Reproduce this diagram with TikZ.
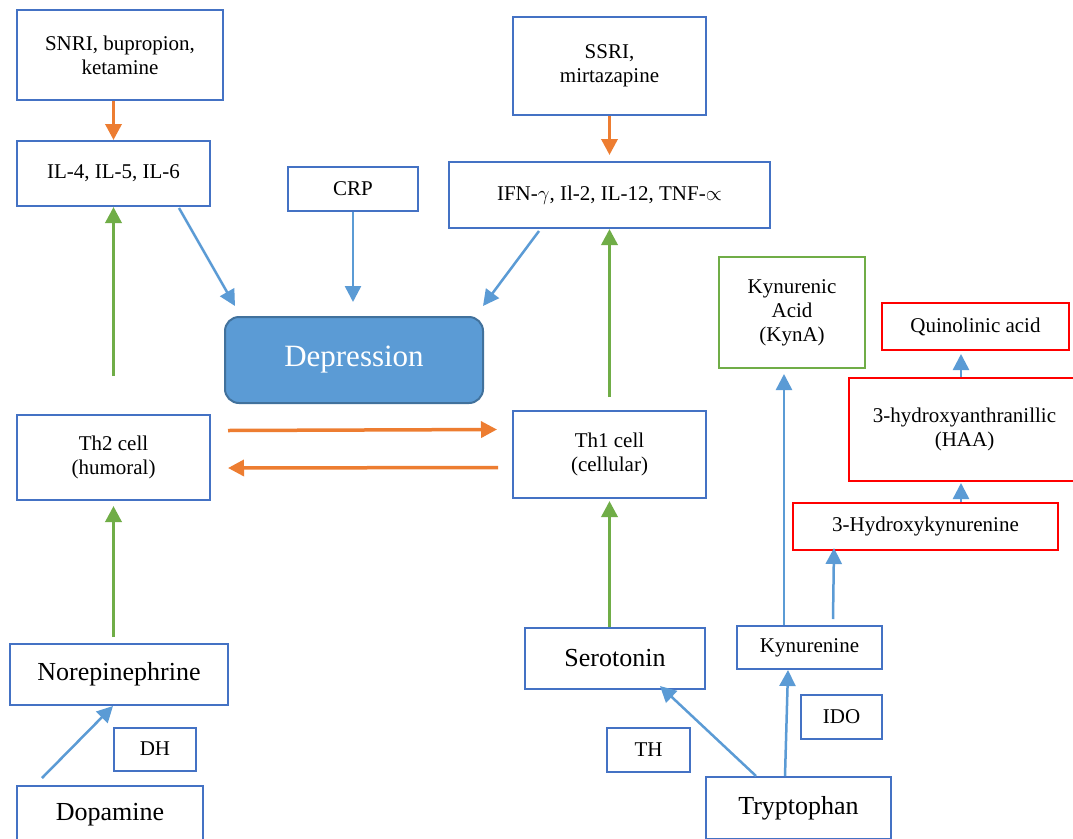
\documentclass[tikz,border=0pt]{standalone}
\usepackage{fontspec}
\setmainfont{Liberation Serif}
\usetikzlibrary{arrows.meta,calc}
\definecolor{boxblue}{HTML}{4472C4}
\definecolor{arrblue}{HTML}{5B9BD5}
\definecolor{aorange}{HTML}{ED7D31}
\definecolor{agreen}{HTML}{70AD47}
\definecolor{depborder}{HTML}{41719C}
\definecolor{ared}{HTML}{FF0000}
\begin{document}
\begin{tikzpicture}[x=1pt,y=-1pt,
  bx/.style={draw=boxblue, line width=2pt, fill=white, inner sep=0pt, align=center, font=\fontsize{21}{24}\selectfont},
  rbx/.style={bx, draw=ared},
  gbx/.style={bx, draw=agreen},
  bigtxt/.style={font=\fontsize{26}{30}\selectfont},
  depbox/.style={draw=depborder, fill=arrblue, line width=2pt, rounded corners=14pt, text=white, inner sep=0pt, font=\fontsize{31}{36}\selectfont},
  barr/.style={draw=arrblue, line width=2.5pt, -{Triangle[length=16pt,width=16pt]}},
  oarr/.style={draw=aorange, line width=3.5pt, -{Triangle[length=16pt,width=16pt]}},
  garr/.style={draw=agreen, line width=3.5pt, -{Triangle[length=16pt,width=16pt]}},
]
\useasboundingbox[fill=white] (0,0) rectangle (1073,838);

% nodes
\node[bx, minimum width=206pt, minimum height=90pt] (snri) at (120,55) {SNRI, bupropion,\\ketamine};
\node[bx, minimum width=193pt, minimum height=65pt] (il) at (113.5,173.5) {IL-4, IL-5, IL-6};
\node[bx, minimum width=130pt, minimum height=44pt] (crp) at (353,189) {CRP};
\node[bx, minimum width=193pt, minimum height=98pt] (ssri) at (609.5,66) {SSRI,\\mirtazapine};
\node[bx, minimum width=321pt, minimum height=66pt] (ifn) at (609.5,195) {IFN-$\gamma$, Il-2, IL-12, TNF-$\propto$};
\node[depbox, minimum width=258pt, minimum height=86pt] (dep) at (354,360) {Depression};
\node[bx, minimum width=193pt, minimum height=85pt] (th2) at (113.5,457.5) {Th2 cell\\(humoral)};
\node[bx, minimum width=193pt, minimum height=87pt] (th1) at (609.5,454.5) {Th1 cell\\(cellular)};
\node[bx, bigtxt, minimum width=218pt, minimum height=61pt] (norepi) at (119,674.5) {Norepinephrine};
\node[bx, minimum width=82pt, minimum height=43pt] (dh) at (155,749) {DH};
\node[bx, bigtxt, minimum width=186pt, minimum height=58pt] (dopa) at (110,815) {Dopamine};
\node[bx, bigtxt, minimum width=180pt, minimum height=61pt] (sero) at (615,658.5) {Serotonin};
\node[bx, minimum width=83pt, minimum height=44pt] (th) at (648.5,750) {TH};
\node[bx, minimum width=81pt, minimum height=44pt] (ido) at (841.5,717) {IDO};
\node[bx, minimum width=145pt, minimum height=43pt] (kyn) at (809.5,647.5) {Kynurenine};
\node[bx, bigtxt, minimum width=185pt, minimum height=62pt] (tryp) at (798.5,808) {Tryptophan};
\node[gbx, minimum width=146pt, minimum height=111pt] (kyna) at (792,312.5) {Kynurenic\\Acid\\(KynA)};
\node[rbx, minimum width=187pt, minimum height=47pt] (quin) at (975.5,326.5) {Quinolinic acid};
\node[rbx, minimum width=231pt, minimum height=103pt] (haa) at (964.5,429.5) {3-hydroxyanthranillic\\(HAA)};
\node[rbx, minimum width=265pt, minimum height=47pt] (hk) at (925.5,526.5) {3-Hydroxykynurenine};

\coordinate (g1) at (113.5,376);
\coordinate (g2) at (609.5,397);

% connectors
\draw[oarr] (il |- snri.south) -- (il.north);
\draw[oarr] (ssri.south) -- ($(ifn.north)+(0,-6)$);
\draw[barr] ($(il.south east)+(-32,1)$) -- ($(dep.north west)+(11,-10)$);
\draw[barr] (crp.south) -- ($(crp.south |- dep.north)+(0,-14)$);
\draw[barr] ($(ifn.south west)+(91,2)$) -- ($(dep.north east)+(-1,-10)$);
\draw[garr] (g1) -- (il.south);
\draw[garr] (g2) -- (ifn.south);
\draw[oarr] ($(th2.east)+(17,-27)$) -- ($(th1.west)+(-15,-25)$);
\draw[oarr] ($(th1.west)+(-14,13)$) -- ($(th2.east)+(17,10.5)$);
\draw[garr] ($(th2 |- norepi.north)+(0,-6)$) -- ($(th2.south)+(0,5)$);
\draw[garr] (th1 |- sero.north) -- ($(th1.south)+(0,2)$);
\draw[barr] ($(dopa.north west)+(26,-7)$) -- ($(norepi.south west)+(104,0)$);
\draw[barr] ($(tryp.north west)+(51,0)$) -- ($(sero.south east)+(-46,-4)$);
\draw[barr] ($(tryp.north west)+(80,0)$) -- ($(kyn.south west)+(52,0)$);
\draw[barr] ($(kyn.north west)+(48,0)$) -- ($(kyna.south west)+(66,5)$);
\draw[barr] ($(kyn.north west)+(97,-6)$) -- ($(hk.south west)+(42,-3)$);
\draw[barr] ($(hk.north west)+(169,0)$) -- ($(haa.south west)+(113,1)$);
\draw[barr] ($(haa.north west)+(113,0)$) -- ($(quin.south west)+(80,3)$);
\end{tikzpicture}
\end{document}
